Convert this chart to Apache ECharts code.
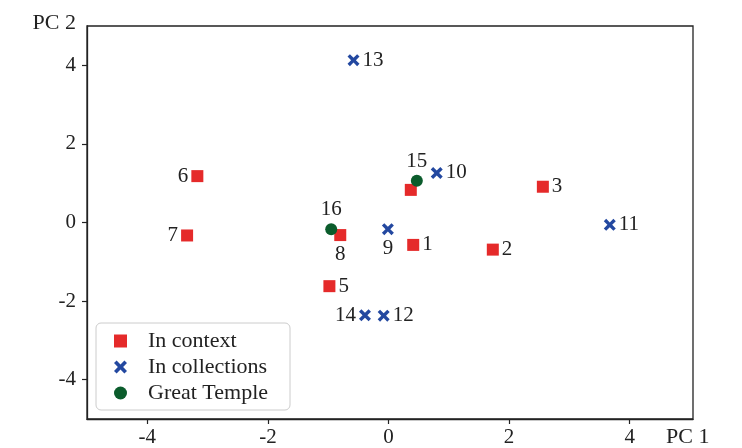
<!DOCTYPE html>
<html>
<head>
<meta charset="utf-8">
<script src="https://cdn.jsdelivr.net/npm/echarts@6/dist/echarts.min.js"></script>
<style>html,body{margin:0;padding:0;background:#fff}#c{width:742px;height:448px}</style>
</head>
<body>
<div id="c"></div>
<script>
// ---- data ----
const contextIds = ['1','2','3','4','5','6','7','8'];
const contextPC1 = [0.41, 1.73, 2.56, 0.37, -0.98, -3.17, -3.34, -0.80];
const contextPC2 = [-0.57, -0.69, 0.91, 0.83, -1.62, 1.18, -0.33, -0.32];

const collectionIds = ['9','10','11','12','13','14'];
const collectionPC1 = [-0.01, 0.80, 3.67, -0.08, -0.58, -0.39];
const collectionPC2 = [-0.17, 1.26, -0.06, -2.37, 4.13, -2.36];

const templeIds = ['15','16'];
const templePC1 = [0.47, -0.95];
const templePC2 = [1.06, -0.17];

const seriesNames = ['In context', 'In collections', 'Great Temple'];
const tickValues = [-4, -2, 0, 2, 4];

// ---- presentation ----
const FONT = '"Liberation Serif", "DejaVu Serif", serif';
const labelPlacement = {
  '1':'right','2':'right','3':'right','4':null,'5':'right','6':'left','7':'left','8':'bottom',
  '9':'bottom','10':'right','11':'right','12':'right','13':'right','14':'left',
  '15':'top','16':'top'
};
const xPath = 'path://M2,0 L5,3 L8,0 L10,2 L7,5 L10,8 L8,10 L5,7 L2,10 L0,8 L3,5 L0,2 Z';

function build(ids, xs, ys) {
  return ids.map((id, i) => {
    const pos = labelPlacement[id];
    return {
      name: id,
      value: [xs[i], ys[i]],
      label: pos ? { show: true, position: pos } : { show: false }
    };
  });
}

const labelStyle = { show: true, formatter: '{b}', color: '#222', fontFamily: FONT, fontSize: 21, distance: 3 };

const chart = echarts.init(document.getElementById('c'));
chart.setOption({
  animation: false,
  backgroundColor: '#fff',
  grid: { left: 87, right: 49, top: 26, bottom: 29, show: true, borderColor: '#222', borderWidth: 1.3, backgroundColor: 'transparent' },
  xAxis: {
    type: 'value', min: -5, max: 5.05,
    splitLine: { show: false },
    axisLine: { onZero: false, lineStyle: { color: '#222', width: 1.3 } },
    axisTick: { show: true, length: 5, lineStyle: { color: '#222', width: 1.2 }, customValues: tickValues },
    axisLabel: { color: '#222', fontFamily: FONT, fontSize: 21, margin: 8, customValues: tickValues }
  },
  yAxis: {
    type: 'value', min: -5, max: 5,
    splitLine: { show: false },
    axisLine: { show: true, onZero: false, lineStyle: { color: '#222', width: 1.3 } },
    axisTick: { show: true, length: 5, lineStyle: { color: '#222', width: 1.2 }, customValues: tickValues },
    axisLabel: { color: '#222', fontFamily: FONT, fontSize: 21, margin: 11, customValues: tickValues }
  },
  legend: {
    orient: 'vertical', left: 96, top: 323,
    padding: [7, 22, 6, 18], itemGap: 4,
    itemWidth: 13, itemHeight: 13,
    backgroundColor: '#fff', borderColor: '#ccc', borderWidth: 1, borderRadius: 5,
    textStyle: { fontFamily: FONT, fontSize: 22, color: '#222', lineHeight: 21, padding: [0, 0, 0, 16] },
    data: [
      { name: seriesNames[0], icon: 'rect' },
      { name: seriesNames[1], icon: xPath },
      { name: seriesNames[2], icon: 'circle' }
    ]
  },
  graphic: [
    { type: 'text', right: 742 - 76, top: 12, style: { text: 'PC 2', font: '22px ' + FONT, fill: '#222' } },
    { type: 'text', left: 666, top: 426, style: { text: 'PC 1', font: '22px ' + FONT, fill: '#222' } }
  ],
  series: [
    { name: seriesNames[0], type: 'scatter', symbol: 'rect', symbolSize: 12,
      itemStyle: { color: '#e52a2a', opacity: 1 }, label: labelStyle,
      data: build(contextIds, contextPC1, contextPC2) },
    { name: seriesNames[1], type: 'scatter', symbol: xPath, symbolSize: 12,
      itemStyle: { color: '#2348a0', opacity: 1 }, label: labelStyle,
      data: build(collectionIds, collectionPC1, collectionPC2) },
    { name: seriesNames[2], type: 'scatter', symbol: 'circle', symbolSize: 12,
      itemStyle: { color: '#0b5c2c', opacity: 1 }, label: labelStyle,
      data: build(templeIds, templePC1, templePC2) }
  ]
});
</script>
</body>
</html>
